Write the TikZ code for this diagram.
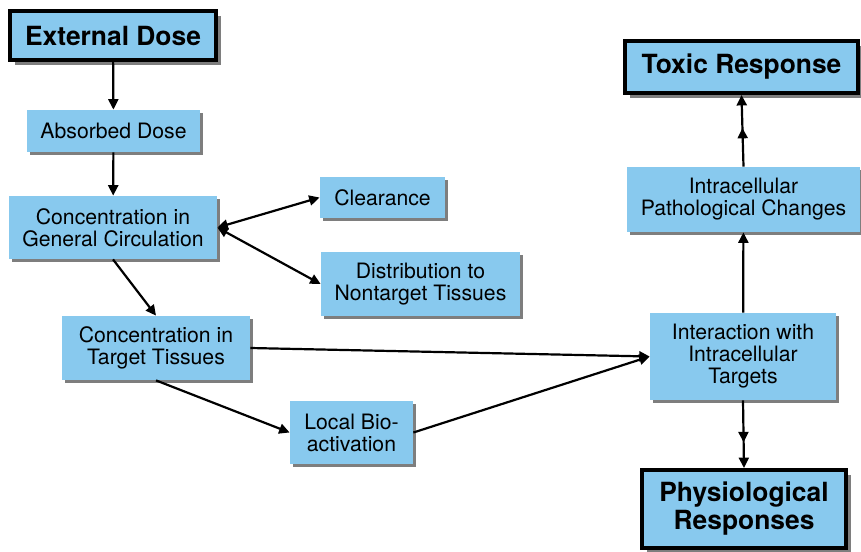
\documentclass[tikz,border=0pt]{standalone}
\usepackage{fontspec}
\setmainfont{TeX Gyre Heros}
\usetikzlibrary{positioning,arrows.meta,shadows,decorations.markings}
\definecolor{cBox}{HTML}{88C9EE}
\definecolor{cShade}{HTML}{7E7E7E}
\tikzset{
  stage/.style   ={fill=cBox, align=center, inner sep=0pt,
                   font=\fontsize{10.6}{11}\selectfont,
                   drop shadow={shadow xshift=1.6pt, shadow yshift=-1.6pt,
                   fill=cShade, opacity=1}},
  endpoint/.style={fill=cBox, align=center, inner sep=0pt, draw=black,
                   line width=2pt, font=\bfseries\fontsize{13.2}{14}\selectfont,
                   drop shadow={shadow xshift=2.6pt, shadow yshift=-2.6pt,
                   fill=cShade, opacity=1}},
  flow/.style    ={-{Triangle[length=5.2pt,width=5pt]}, line width=1.1pt},
  both flow/.style={{Triangle[length=5.2pt,width=5pt]}-{Triangle[length=5.2pt,width=5pt]},
                   line width=1.1pt},
  midflow/.style ={flow, postaction={decorate}, decoration={markings,
                   mark=at position #1 with {\arrow{Triangle[length=5.2pt,width=5pt]}}}},
}

\begin{document}
\begin{tikzpicture}[x=0.5pt, y=-0.5pt]
  \useasboundingbox (0,0) rectangle (861,551);

  % ---- left column: dose to target ----
  \node[endpoint, minimum width=103pt, minimum height=24.5pt] (ext) at (113,35.5)
    {External Dose};
  \node[stage, minimum width=86.5pt, minimum height=21pt] (absorbed) at (113.5,131)
    {Absorbed Dose};
  \node[stage, minimum width=104pt, minimum height=31.5pt] (general) at (113,227.5)
    {Concentration in\\General Circulation};
  \node[stage, minimum width=94pt, minimum height=32pt] (target) at (156,348)
    {Concentration in\\Target Tissues};

  % ---- side branches ----
  \node[stage, minimum width=62.5pt, minimum height=20.5pt] (clear) at (382.5,197.5)
    {Clearance};
  \node[stage, minimum width=99.5pt, minimum height=32pt] (distrib) at (420.5,284)
    {Distribution to\\Nontarget Tissues};
  \node[stage, minimum width=61.5pt, minimum height=31.5pt] (bioact) at (351.5,432.5)
    {Local Bio-\\activation};

  % ---- right column: responses ----
  \node[endpoint, minimum width=116.5pt, minimum height=26pt] (toxic) at (741.5,67)
    {Toxic Response};
  \node[stage, minimum width=116.5pt, minimum height=32.5pt] (patho) at (743.5,199.5)
    {Intracellular\\Pathological Changes};
  \node[stage, minimum width=93pt, minimum height=43.5pt] (inter) at (743,356.5)
    {Interaction with\\Intracellular\\Targets};
  \node[endpoint, minimum width=102pt, minimum height=39pt] (physio) at (744,509)
    {Physiological\\Responses};

  % ---- edges ----
  \draw[flow] (ext) -- (absorbed);
  \draw[flow] (absorbed) -- (general);
  \draw[both flow] (general.east) -- (clear.west);
  \draw[both flow] (general.east) -- (distrib.west);
  \draw[flow] (general.south) -- (target.north);
  \draw[flow] (target.south) -- (bioact.west);
  \draw[flow] (target.east) -- (inter.west);
  \draw[flow] (bioact.east) -- (inter.west);
  \draw[flow] (inter) -- (patho);
  \draw[midflow=0.54] (patho.north) -- (toxic.south);
  \draw[midflow=0.62] (inter.south) -- (physio.north);

\end{tikzpicture}
\end{document}
